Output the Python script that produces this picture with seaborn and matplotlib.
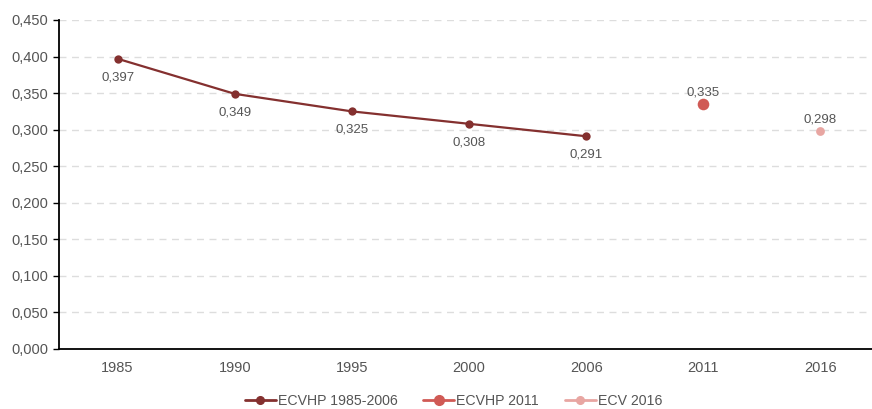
import matplotlib
matplotlib.use("Agg")
import matplotlib.pyplot as plt
from matplotlib.lines import Line2D
from matplotlib.ticker import FuncFormatter, FixedLocator
import seaborn as sns
import pandas as pd

categories = ["1985", "1990", "1995", "2000", "2006", "2011", "2016"]
ecvhp_years = ["1985", "1990", "1995", "2000", "2006"]
ecvhp_values = [0.397, 0.349, 0.325, 0.308, 0.291]
ecvhp2011_years = ["2011"]
ecvhp2011_values = [0.335]
ecv2016_years = ["2016"]
ecv2016_values = [0.298]
series_names = ["ECVHP 1985-2006", "ECVHP 2011", "ECV 2016"]

c1, c2, c3 = "#84302f", "#d05a55", "#e8a6a2"
tc = "#555555"

sns.set_style("white")
plt.rcParams["font.family"] = ["Liberation Sans", "DejaVu Sans"]

fig = plt.figure(figsize=(8.72, 4.09), dpi=100)
ax = fig.add_axes([59 / 872, 60 / 409, 820 / 872, 329 / 409])

pos = {c: i for i, c in enumerate(categories)}
d1 = pd.DataFrame({"x": [pos[y] for y in ecvhp_years], "y": ecvhp_values})
d2 = pd.DataFrame({"x": [pos[y] for y in ecvhp2011_years], "y": ecvhp2011_values})
d3 = pd.DataFrame({"x": [pos[y] for y in ecv2016_years], "y": ecv2016_values})

sns.lineplot(data=d1, x="x", y="y", ax=ax, color=c1, linewidth=1.6,
             marker="o", markersize=6, markeredgewidth=0, zorder=3)
sns.scatterplot(data=d2, x="x", y="y", ax=ax, color=c2, s=70, linewidth=0, zorder=3)
sns.scatterplot(data=d3, x="x", y="y", ax=ax, color=c3, s=40, linewidth=0, zorder=3)

fmt = lambda v: f"{v:.3f}".replace(".", ",")
for x, y in zip(d1["x"], d1["y"]):
    ax.annotate(fmt(y), (x, y), xytext=(0, -9), textcoords="offset points",
                ha="center", va="top", fontsize=9.5, color=tc)
for d in (d2, d3):
    for x, y in zip(d["x"], d["y"]):
        ax.annotate(fmt(y), (x, y), xytext=(0, 4), textcoords="offset points",
                    ha="center", va="bottom", fontsize=9.5, color=tc)

ax.set_xlim(-0.5, len(categories) - 0.5)
ax.set_ylim(0, 0.45)
ax.set_yticks([i * 0.05 for i in range(10)])
ax.yaxis.set_major_formatter(FuncFormatter(lambda v, p: fmt(v)))
ax.xaxis.set_major_locator(FixedLocator(list(range(len(categories)))))
ax.set_xticklabels(categories)
ax.xaxis.set_minor_locator(FixedLocator([i - 0.5 for i in range(len(categories) + 1)]))
ax.tick_params(axis="x", which="major", length=0, pad=9, labelsize=10.5, labelcolor=tc)
ax.tick_params(axis="x", which="minor", length=5, width=1, color="black", direction="out")
ax.tick_params(axis="y", which="major", length=4, width=1, color="black", labelsize=10.5,
               labelcolor=tc, pad=4, left=True)
ax.set_xlabel("")
ax.set_ylabel("")

ax.yaxis.grid(True, color="#dddddd", linestyle=(0, (5, 4)), linewidth=1)
ax.set_axisbelow(True)
for s in ("top", "right"):
    ax.spines[s].set_visible(False)
for s in ("left", "bottom"):
    ax.spines[s].set_color("black")
    ax.spines[s].set_linewidth(1.3)

handles = [
    Line2D([], [], color=c1, marker="o", markersize=5.5, linewidth=2),
    Line2D([], [], color=c2, marker="o", markersize=7, linewidth=2),
    Line2D([], [], color=c3, marker="o", markersize=5.5, linewidth=2),
]
fig.legend(handles, series_names, loc="center", bbox_to_anchor=(0.52, 0.02), ncol=3,
           frameon=False, fontsize=10.2, handlelength=2.2, handletextpad=0.15,
           columnspacing=1.8, labelcolor=tc)

fig.savefig("out.png", dpi=100)
